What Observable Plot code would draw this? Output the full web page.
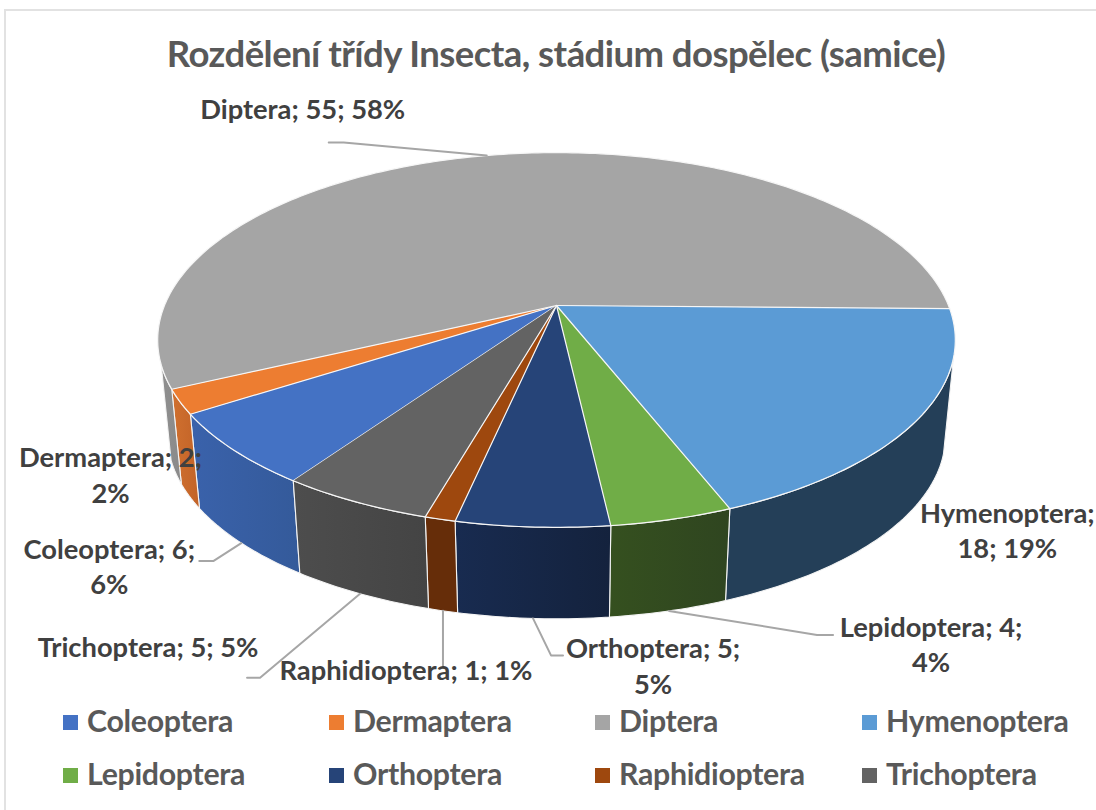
<!DOCTYPE html>
<html lang="cs">
<head>
<meta charset="utf-8">
<script src="https://cdn.jsdelivr.net/npm/d3@7"></script>
<script src="https://cdn.jsdelivr.net/npm/@observablehq/plot@0.6"></script>
<style>
html,body{margin:0;padding:0;background:#fff;overflow:hidden}
body{width:1096px;height:810px;position:relative;font-family:Lato,sans-serif}
#frame{position:absolute;left:4px;top:9px;right:-4px;bottom:-4px;border:2px solid #e2e2e2;pointer-events:none}
#title{height:85px;box-sizing:border-box;padding-top:32px;text-align:center;width:1112px;font-size:36.5px;line-height:42px;font-weight:700;color:#595959;letter-spacing:-.55px;white-space:nowrap}
#chart{height:615px}
#chart svg{display:block;overflow:visible}
#legend{position:relative;height:110px;font-size:30.3px;font-weight:700;color:#595959;letter-spacing:-.3px}
.item{position:absolute;white-space:nowrap;line-height:34px}
.item i{display:inline-block;width:15px;height:15px;margin-right:9px;vertical-align:2px}
</style>
</head>
<body>
<div id="frame"></div>
<div id="title">Rozdělení třídy Insecta, stádium dospělec (samice)</div>
<div id="chart"></div>
<div id="legend"></div>
<script>
const categories = ["Coleoptera","Dermaptera","Diptera","Hymenoptera","Lepidoptera","Orthoptera","Raphidioptera","Trichoptera"];
const counts = [6,2,55,18,4,5,1,5];
const percents = [6,2,58,19,4,5,1,5];
const topColors = ["#4472c4","#ed7d31","#a5a5a5","#5b9bd5","#70ad47","#264478","#9e480e","#636363"];
const sideFrom = ["#3a62ab","#d0702f","#8f8f8f","#243f58","#35501f","#182b50","#662d09","#4d4d4d"];
const sideTo   = ["#345a9a","#c26328","#8a8a8a","#243f58","#2f4520","#14223d","#662d09","#444444"];

// label layout: pixel offsets from the rim point of each slice's mid-angle
const labelBreaks = {Coleoptera:1,Dermaptera:1,Diptera:0,Hymenoptera:1,Lepidoptera:1,Orthoptera:1,Raphidioptera:0,Trichoptera:0};
const labelOffsets = {
  Coleoptera:[-132,7], Dermaptera:[-79,-38], Diptera:[-184,-45], Hymenoptera:[100,-1],
  Lepidoptera:[262,17], Orthoptera:[120,31], Raphidioptera:[-37,60], Trichoptera:[-212,55]
};
const leaderElbows = {
  Coleoptera:[[-28,18],[-42,18]], Diptera:[[-143,-13],[-158,-13]],
  Lepidoptera:[[148,24],[164,24]], Orthoptera:[[18,37],[30,37]],
  Raphidioptera:[[0,56]], Trichoptera:[[-100,84],[-113,84]]
};

const svgTop = 85, cx = 556, cy = 305 - svgTop, W = 392, H = 181, persp = 0.184;
const wallScale = 0.975, wallDrop = 97;
const wallFrom = 106, wallTo = 252; // the stretch of rim whose wall faces the viewer
const total = d3.sum(counts);
const startAngle = 237.25; // where Coleoptera ends, clockwise from the back of the pie
const rad = d => d * Math.PI / 180;

// unit disc → picture plane (perspective), expressed in x/y scale units
const rimTop = a => {
  const u = Math.sin(rad(a)), v = -Math.cos(rad(a)), k = 1 - persp * v;
  return {x: u / k, y: v / k};
};
const rimBottom = a => {
  const p = rimTop(a);
  return {x: p.x * wallScale, y: p.y * wallScale + wallDrop / H};
};
const offset = (p, d) => ({x: p.x + d[0] / W, y: p.y + d[1] / H});
const arc = (a0, a1, f) => d3.range(0, Math.ceil(a1 - a0) + 1).map(i => f(Math.min(a0 + i, a1)));

let acc = startAngle - 360 * counts[0] / total;
const slices = categories.map((name, i) => {
  const a0 = acc, a1 = acc + 360 * counts[i] / total;
  acc = a1;
  return {name, i, a0, a1, mid: (a0 + a1) / 2};
});
const topPts = slices.flatMap(s => [{x:0,y:0}, ...arc(s.a0, s.a1, rimTop)].map(p => ({...p, name:s.name})));
// each slice's angles brought back into one turn, so its front-facing part can be cut out
const wallMarks = slices.flatMap(s => {
  const turn = s.a0 >= 360 ? 360 : 0;
  const lo = Math.max(s.a0 - turn, wallFrom), hi = Math.min(s.a1 - turn, wallTo);
  if (hi <= lo) return [];
  return [Plot.line(
    [...arc(lo, hi, rimTop), ...arc(lo, hi, rimBottom).reverse(), rimTop(lo)],
    {x:"x", y:"y", fill:`url(#side-${s.i})`, stroke:"#f4f4f4", strokeWidth:1.1, curve:"linear"}
  )];
});

const leaders = slices.filter(s => leaderElbows[s.name]).flatMap(s => {
  const start = (s.name === "Diptera" ? rimTop : rimBottom)(s.mid);
  return [start, ...leaderElbows[s.name].map(d => offset(start, d))].map(p => ({...p, name:s.name}));
});
const labels = slices.flatMap(s => {
  const anchor = offset((s.name === "Diptera" ? rimTop : rimBottom)(s.mid), labelOffsets[s.name]);
  const parts = [s.name + ";", counts[s.i] + ";", percents[s.i] + "%"];
  const lines = labelBreaks[s.name]
    ? (s.name === "Hymenoptera" ? [parts[0], parts[1] + " " + parts[2]] : [parts[0] + " " + parts[1], parts[2]])
    : [parts.join(" ")];
  return lines.map((text, n) => ({...offset(anchor, [0, n * 35.5]), text}));
});

const defsMark = () => {
  const defs = d3.create("svg:defs");
  slices.forEach(s => {
    const g = defs.append("linearGradient").attr("id", `side-${s.i}`);
    g.append("stop").attr("offset", 0).attr("stop-color", sideFrom[s.i]);
    g.append("stop").attr("offset", 1).attr("stop-color", sideTo[s.i]);
  });
  return defs.node();
};

const plot = Plot.plot({
  width: 1096, height: 615, margin: 0,
  x: {domain: [-1, 1], range: [cx - W, cx + W], axis: null},
  y: {domain: [-1, 1], range: [cy - H, cy + H], axis: null},
  color: {domain: categories, range: topColors},
  style: {fontFamily: "Lato, sans-serif", background: "transparent", overflow: "visible"},
  marks: [
    defsMark,
    ...wallMarks,
    Plot.line(topPts, {x:"x", y:"y", z:"name", fill:"name", stroke:"#f6f6f6", strokeWidth:1.2, curve:"linear"}),
    Plot.line(leaders, {x:"x", y:"y", z:"name", stroke:"#a6a6a6", strokeWidth:2, curve:"linear"}),
    Plot.text(labels, {x:"x", y:"y", text:"text", fontSize:27.3, fontWeight:700, fill:"#404040", textAnchor:"middle", lineAnchor:"middle"})
  ]
});
document.getElementById("chart").append(plot);

const legendX = [63, 329, 595, 862], legendY = [3, 56];
const legend = document.getElementById("legend");
categories.forEach((name, i) => {
  const el = document.createElement("div");
  el.className = "item";
  el.style.left = legendX[i % 4] + "px";
  el.style.top = legendY[Math.floor(i / 4)] + "px";
  const sw = document.createElement("i");
  sw.style.background = topColors[i];
  el.append(sw, name);
  legend.append(el);
});
</script>
</body>
</html>
